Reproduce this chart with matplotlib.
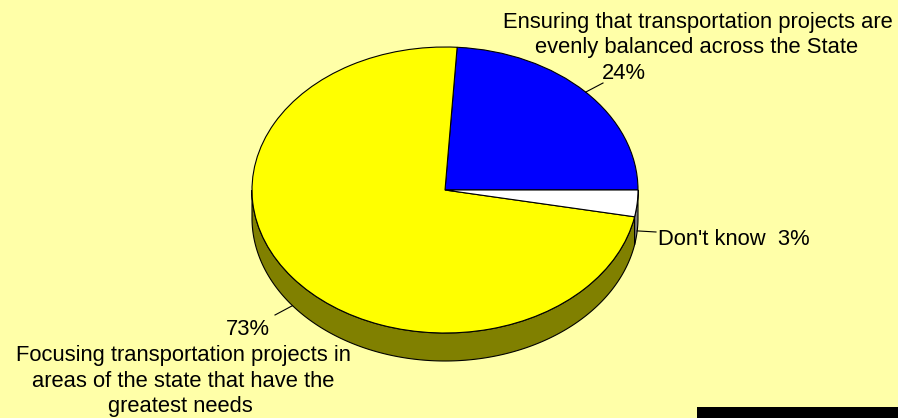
import numpy as np
import matplotlib
matplotlib.use("Agg")
import matplotlib.pyplot as plt
from matplotlib.patches import Polygon, Rectangle

# Survey responses
categories = [
    "Ensuring that transportation projects are evenly balanced across the State",
    "Focusing transportation projects in areas of the state that have the greatest needs",
    "Don't know",
]
shares = [24, 73, 3]
top_colors = ["#0000FF", "#FFFF00", "#FFFFFF"]
side_colors = ["#000080", "#808000", "#808080"]

BG = "#FFFFA8"
W, H = 898, 418
CX, CY, RX, RY = 445, 190, 193, 143   # ellipse centre / radii in pixels
DEPTH = 28 / RY                       # thickness of the pie in y units
FONT = dict(family="Liberation Sans", size=15.8, color="black")


def X(px):
    return (px - CX) / RX


def Y(py):
    return (CY - py) / RY


fig = plt.figure(figsize=(W / 100, H / 100), dpi=100, facecolor=BG)
ax = fig.add_axes([0, 0, 1, 1])
ax.set_facecolor(BG)

fracs = np.array(shares, dtype=float) / sum(shares)
edges = 360 * np.concatenate([[0], np.cumsum(fracs)])
mids = (edges[:-1] + edges[1:]) / 2

# front wall of the pie (only the lower half is visible)
for i in range(len(shares)):
    a, b = max(edges[i], 180), min(edges[i + 1], 360)
    if b <= a:
        continue
    t = np.radians(np.linspace(a, b, 200))
    top = np.column_stack([np.cos(t), np.sin(t)])
    bot = top[::-1] - [0, DEPTH]
    ax.add_patch(Polygon(np.vstack([top, bot]), closed=True,
                         facecolor=side_colors[i], edgecolor="black",
                         lw=0.8, zorder=1))

# top face
wedges, _ = ax.pie(shares, colors=top_colors, startangle=0, counterclock=True,
                   radius=1, center=(0, 0),
                   wedgeprops=dict(edgecolor="black", linewidth=0.8))
for w in wedges:
    w.set_zorder(2)

ax.set_aspect("auto")
ax.set_xlim(X(0), X(W))
ax.set_ylim(Y(H), Y(0))
ax.axis("off")

# leader lines
m = np.radians(mids)
ax.plot([np.cos(m[0]), X(603)], [np.sin(m[0]), Y(83)], color="black", lw=0.8, zorder=3)
ax.plot([np.cos(m[1]), X(275)], [np.sin(m[1]) - DEPTH, Y(315)], color="black", lw=0.8, zorder=3)
ax.plot([np.cos(m[2]), X(656)], [np.sin(m[2]) - DEPTH * 0.98, Y(232)], color="black", lw=0.8, zorder=3)

# labels
ax.text(X(698), Y(28), "Ensuring that transportation projects are", ha="center", va="baseline", **FONT)
ax.text(X(697), Y(53), "evenly balanced across the State", ha="center", va="baseline", **FONT)
ax.text(X(624), Y(79), f"{shares[0]}%", ha="center", va="baseline", **FONT)

ax.text(X(658), Y(245), f"Don't know  {shares[2]}%", ha="left", va="baseline", **FONT)

ax.text(X(248), Y(335), f"{shares[1]}%", ha="center", va="baseline", **FONT)
ax.text(X(183), Y(361), "Focusing transportation projects in", ha="center", va="baseline", **FONT)
ax.text(X(183), Y(387), "areas of the state that have the", ha="center", va="baseline", **FONT)
ax.text(X(180), Y(412), "greatest needs", ha="center", va="baseline", **FONT)

# black strip in the lower right corner
fig.add_artist(Rectangle((697 / W, 0), (W - 697) / W, 11 / H,
                         transform=fig.transFigure, facecolor="black",
                         edgecolor="none"))

fig.savefig("out.png", dpi=100, facecolor=BG)
